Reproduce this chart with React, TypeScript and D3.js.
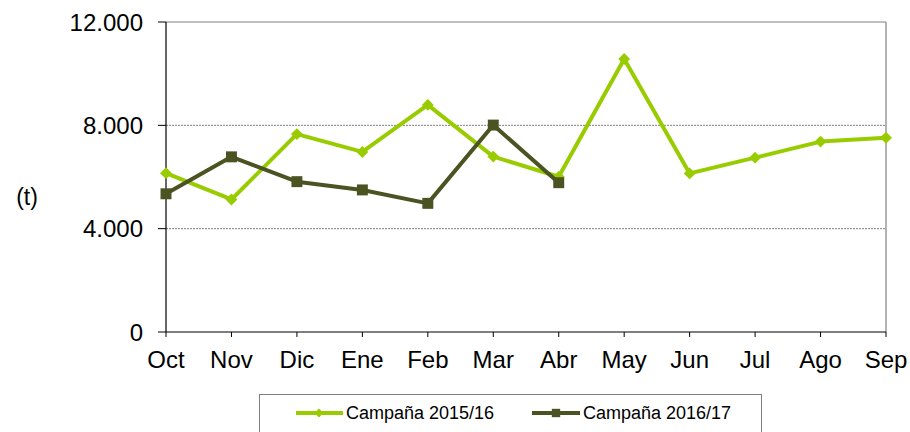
import React from "react";
import * as d3 from "d3";

const months = ["Oct", "Nov", "Dic", "Ene", "Feb", "Mar", "Abr", "May", "Jun", "Jul", "Ago", "Sep"];
const serie1516 = [6150, 5130, 7660, 6970, 8790, 6790, 6010, 10570, 6140, 6750, 7370, 7520];
const serie1617 = [5350, 6780, 5820, 5500, 4980, 8010, 5780];
const yTicks = [0, 4000, 8000, 12000];
const seriesNames = ["Campaña 2015/16", "Campaña 2016/17"];

const W = 910, H = 432;
const left = 166, right = 886, top = 22, bottom = 332;
const c1 = "#99cc00";
const c2 = "#4a5321";
const font = "Liberation Sans, Arial, sans-serif";

export default function App() {
  const x = d3.scalePoint<string>().domain(months).range([left, right]);
  const y = d3.scaleLinear().domain([0, 12000]).range([bottom, top]);
  const fmt = (v: number) => d3.format(",")(v).replace(/,/g, ".");
  const line = d3.line<number>().x((_, i) => x(months[i])!).y((d) => y(d));
  const diamond = d3.symbol().type(d3.symbolDiamond2).size(90)();
  const square = d3.symbol().type(d3.symbolSquare).size(120)();

  return (
    <svg width={W} height={H} style={{ position: "absolute", left: 0, top: 0 }} fontFamily={font}>
      <rect width={W} height={H} fill="#fff" />
      {yTicks.filter((t) => t > 0 && t < 12000).map((t) => (
        <line key={t} x1={left} x2={right} y1={y(t)} y2={y(t)} stroke="#808080" strokeWidth={1} strokeDasharray="2,1" />
      ))}
      <line x1={left} x2={right} y1={top} y2={top} stroke="#808080" strokeWidth={1.2} />
      <line x1={right} x2={right} y1={top} y2={bottom} stroke="#808080" strokeWidth={1.2} />
      <line x1={left} x2={left} y1={top} y2={bottom} stroke="#000" strokeWidth={1.2} />
      {yTicks.map((t) => (
        <g key={t}>
          <line x1={left - 8} x2={left} y1={y(t)} y2={y(t)} stroke="#000" />
          <text x={143} y={y(t)} dy="0.36em" textAnchor="end" fontSize={24} fill="#000">{fmt(t)}</text>
        </g>
      ))}
      <line x1={left} x2={right} y1={bottom} y2={bottom} stroke="#000" strokeWidth={1.2} />
      {months.map((m) => (
        <g key={m}>
          <line x1={x(m)} x2={x(m)} y1={bottom} y2={bottom + 5} stroke="#000" />
          <text x={x(m)} y={368} textAnchor="middle" fontSize={24} fill="#000">{m}</text>
        </g>
      ))}
      <text x={27} y={205} textAnchor="middle" fontSize={23} fill="#000">(t)</text>
      <path d={line(serie1516)!} fill="none" stroke={c1} strokeWidth={4} strokeLinejoin="round" />
      {serie1516.map((v, i) => (
        <path key={i} d={diamond!} transform={`translate(${x(months[i])},${y(v)})`} fill={c1} />
      ))}
      <path d={line(serie1617)!} fill="none" stroke={c2} strokeWidth={4} strokeLinejoin="round" />
      {serie1617.map((v, i) => (
        <path key={i} d={square!} transform={`translate(${x(months[i])},${y(v)})`} fill={c2} />
      ))}
      <rect x={259.5} y={394.5} width={502} height={50} fill="#fff" stroke="#808080" />
      <line x1={296} x2={343} y1={413} y2={413} stroke={c1} strokeWidth={4} />
      <path d={d3.symbol().type(d3.symbolDiamond2).size(50)()!} transform="translate(319,413)" fill={c1} />
      <text x={346} y={419} fontSize={18} fill="#000">{seriesNames[0]}</text>
      <line x1={532} x2={580} y1={413} y2={413} stroke={c2} strokeWidth={4} />
      <path d={d3.symbol().type(d3.symbolSquare).size(70)()!} transform="translate(556,413)" fill={c2} />
      <text x={583} y={419} fontSize={18} fill="#000">{seriesNames[1]}</text>
    </svg>
  );
}
